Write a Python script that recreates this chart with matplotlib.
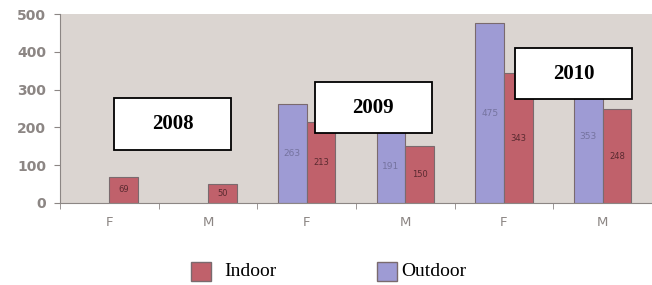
import numpy as np
import matplotlib.pyplot as plt
from matplotlib.patches import Rectangle

categories = ["F", "M", "F", "M", "F", "M"]
years = ["2008", "2009", "2010"]
outdoor = [0, 0, 263, 191, 475, 353]
indoor = [69, 50, 213, 150, 343, 248]

OUT_COLOR = "#9e9bd4"
IN_COLOR = "#c0616b"
EDGE = "#7a6a6e"
BG = "#dbd5d1"
TICK_GRAY = "#8c8684"

W, H = 652, 285
fig = plt.figure(figsize=(W / 100, H / 100), dpi=100)
ax = fig.add_axes([60 / W, 82 / H, 592 / W, 189 / H])
ax.set_facecolor(BG)

x = np.arange(len(categories))
w = 0.29

for i in range(len(categories)):
    if outdoor[i] > 0:
        ax.bar(x[i] - w / 2, outdoor[i], w, color=OUT_COLOR, edgecolor=EDGE, linewidth=0.8)
        ax.text(x[i] - w / 2, outdoor[i] / 2, str(outdoor[i]), ha="center", va="center",
                fontsize=6.5, color="#75739f")
    if indoor[i] > 0:
        ax.bar(x[i] + w / 2, indoor[i], w, color=IN_COLOR, edgecolor=EDGE, linewidth=0.8)
        ax.text(x[i] + w / 2, indoor[i] / 2, str(indoor[i]), ha="center", va="center",
                fontsize=6, color="#5a2a30")

ax.set_xlim(-0.5, 5.42)
ax.set_ylim(0, 500)
ax.set_yticks([0, 100, 200, 300, 400, 500])
ax.set_xticks(x)
ax.set_xticklabels(categories)
ax.set_xticks(np.arange(-0.5, 6, 1), minor=True)
ax.tick_params(axis="x", which="major", length=0, pad=9, labelsize=9.5, labelcolor=TICK_GRAY)
ax.tick_params(axis="x", which="minor", length=4, color=TICK_GRAY, direction="out")
ax.tick_params(axis="y", length=4, color=TICK_GRAY, labelsize=10, labelcolor=TICK_GRAY, pad=6)
for lbl in ax.get_yticklabels():
    lbl.set_fontweight("semibold")
for side in ["top", "right"]:
    ax.spines[side].set_visible(False)
for side in ["left", "bottom"]:
    ax.spines[side].set_color(TICK_GRAY)

# year boxes (x0, x1, y0, y1 in data units)
boxes = [(0.05, 1.23, 140, 278), (2.08, 3.27, 185, 320), (4.11, 5.30, 275, 410)]
for (x0, x1, y0, y1), year in zip(boxes, years):
    ax.add_patch(Rectangle((x0, y0), x1 - x0, y1 - y0, facecolor="white",
                           edgecolor="black", linewidth=1.3, zorder=5))
    ax.text((x0 + x1) / 2, (y0 + y1) / 2, year, ha="center", va="center",
            fontsize=15, fontweight="bold", family="Liberation Serif",
            color="black", zorder=6)

# legend drawn by hand to match the spacing
legend_items = [("Indoor", IN_COLOR, 191, 224), ("Outdoor", OUT_COLOR, 377, 401)]
for label, color, px, tx in legend_items:
    fig.patches.append(Rectangle((px / W, 4 / H), 20 / W, 19 / H, facecolor=color,
                                 edgecolor=EDGE, linewidth=1.0,
                                 transform=fig.transFigure, figure=fig))
    fig.text(tx / W, 13 / H, label, ha="left", va="center", fontsize=14,
             family="Liberation Serif", color="black")

fig.savefig("out.png", dpi=100)
